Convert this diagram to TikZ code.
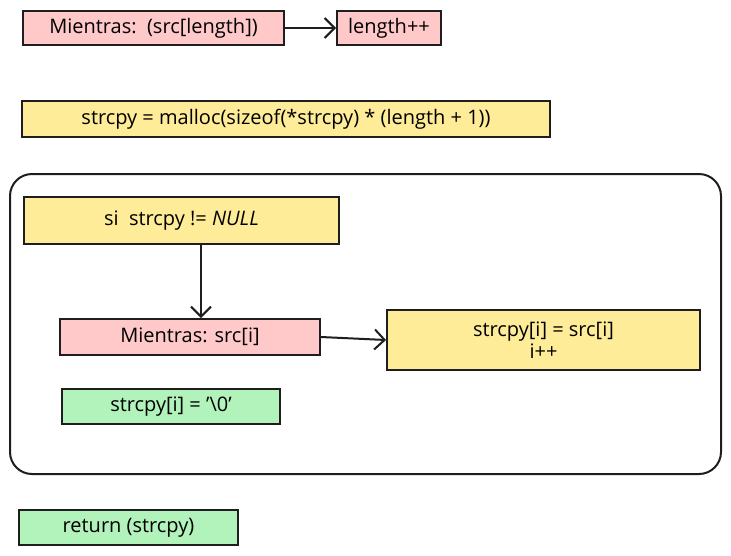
\documentclass[tikz,border=0pt]{standalone}
\usepackage{fontspec}
\setmainfont{Open Sans}
\usetikzlibrary{arrows.meta}
\definecolor{pinkfill}{HTML}{FFC9C9}
\definecolor{yellowfill}{HTML}{FFEC99}
\definecolor{greenfill}{HTML}{B2F2BB}
\definecolor{ink}{HTML}{1E1E1E}
\begin{document}
\begin{tikzpicture}[x=1pt, y=-1pt,
         arrow/.style={-{Straight Barb[length=10pt,width=20pt]}, ink, line width=2pt},
         stepbox/.style={draw=ink, line width=2pt, rectangle, inner sep=0pt,
            align=center, font=\fontsize{20}{23}\selectfont},
         loop box/.style={stepbox, fill=pinkfill},
         do box/.style={stepbox, fill=yellowfill},
         end box/.style={stepbox, fill=greenfill}
      ]
   \useasboundingbox (0,0) rectangle (731,555);

   % outer frame of the if block
   \draw[ink, line width=2pt, rounded corners=22pt] (10,174) rectangle (721,474);

   \node[loop box, minimum width=261pt, minimum height=34pt] (whileLen) at (153.5,28) {Mientras:~~(src[length])};
   \node[loop box, minimum width=104pt, minimum height=34pt] (incLen) at (389,28) {length++};
   \node[do box, minimum width=528pt, minimum height=36pt] (alloc) at (286,119) {strcpy = malloc(sizeof(*strcpy) * (length + 1))};
   \node[do box, minimum width=315pt, minimum height=47pt] (ifNull) at (181.5,220.5) {si~~strcpy != \textit{NULL}};
   \node[loop box, minimum width=260pt, minimum height=36pt] (whileSrc) at (190,337) {Mientras: src[i]};
   \node[do box, minimum width=313pt, minimum height=60pt] (copy) at (543.5,340) {strcpy[i] = src[i]\\[-1pt] i++};
   \node[end box, minimum width=218pt, minimum height=35pt] (term) at (171,406.5) {strcpy[i] = '\textbackslash 0'};
   \node[end box, minimum width=219pt, minimum height=35pt] (ret) at (128.5,527.5) {return (strcpy)};

   \begin{scope}[arrow]
      \draw (whileLen.east) -- (incLen.west);
      \draw (ifNull.south -| 201,0) -- (whileSrc.north -| 201,0);
      \draw (whileSrc.east) -- (copy.west);
   \end{scope}
\end{tikzpicture}
\end{document}
